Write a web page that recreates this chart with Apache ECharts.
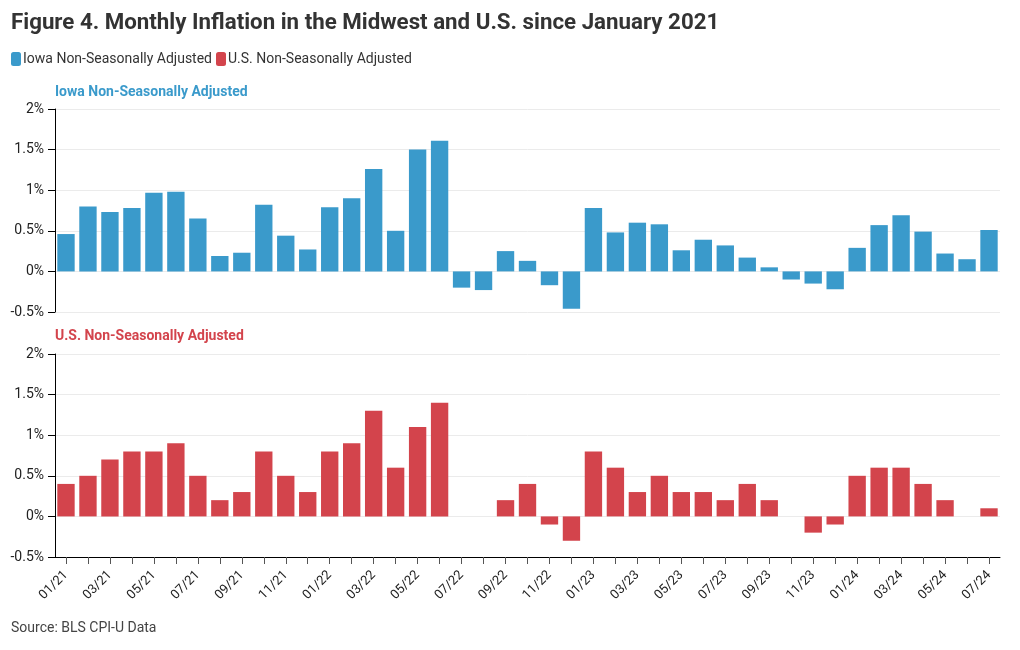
<!DOCTYPE html>
<html>
<head>
<meta charset="utf-8">
<script src="https://cdn.jsdelivr.net/npm/echarts@6/dist/echarts.min.js"></script>
<style>
html,body{margin:0;padding:0;background:#fff;}
#chart{width:1020px;height:650px;}
</style>
</head>
<body>
<div id="chart"></div>
<script>
const months = ['01/21','02/21','03/21','04/21','05/21','06/21','07/21','08/21','09/21','10/21','11/21','12/21',
  '01/22','02/22','03/22','04/22','05/22','06/22','07/22','08/22','09/22','10/22','11/22','12/22',
  '01/23','02/23','03/23','04/23','05/23','06/23','07/23','08/23','09/23','10/23','11/23','12/23',
  '01/24','02/24','03/24','04/24','05/24','06/24','07/24'];
const iowaNSA = [0.46,0.80,0.73,0.78,0.97,0.98,0.65,0.19,0.23,0.82,0.44,0.27,
  0.79,0.90,1.26,0.50,1.50,1.61,-0.20,-0.23,0.25,0.13,-0.17,-0.46,
  0.78,0.48,0.60,0.58,0.26,0.39,0.32,0.17,0.05,-0.10,-0.15,-0.22,
  0.29,0.57,0.69,0.49,0.22,0.15,0.51];
const usNSA = [0.4,0.5,0.7,0.8,0.8,0.9,0.5,0.2,0.3,0.8,0.5,0.3,
  0.8,0.9,1.3,0.6,1.1,1.4,0.0,0.0,0.2,0.4,-0.1,-0.3,
  0.8,0.6,0.3,0.5,0.3,0.3,0.2,0.4,0.2,0.0,-0.2,-0.1,
  0.5,0.6,0.6,0.4,0.2,0.0,0.1];
const yTicks = {min:-0.5, max:2, interval:0.5};

const BLUE = '#3a9acb', RED = '#d3444c';
const FONT = 'Roboto';
const chart = echarts.init(document.getElementById('chart'));

function yAxis(idx){
  return {
    gridIndex: idx, type:'value', min:yTicks.min, max:yTicks.max, interval:yTicks.interval,
    axisLine:{show:true, lineStyle:{color:'#000', width:1}},
    axisTick:{show:true, length:7, lineStyle:{color:'#000'}},
    axisLabel:{formatter: v => v + '%', color:'#222', fontSize:14, fontFamily:FONT, margin:11},
    splitLine:{show:true, lineStyle:{color:'#ebebeb', width:1}}
  };
}

chart.setOption({
  animation:false,
  textStyle:{fontFamily:FONT},
  title:[
    {text:'Figure 4. Monthly Inflation in the Midwest and U.S. since January 2021', left:11, top:12, padding:0,
     textStyle:{fontSize:22.3, fontWeight:'bold', color:'#333', fontFamily:FONT}},
    {text:'Iowa Non-Seasonally Adjusted', left:55, top:85, padding:0,
     textStyle:{fontSize:14, fontWeight:'bold', color:BLUE, fontFamily:FONT}},
    {text:'U.S. Non-Seasonally Adjusted', left:55, top:329, padding:0,
     textStyle:{fontSize:14, fontWeight:'bold', color:RED, fontFamily:FONT}},
    {text:'Source: BLS CPI-U Data', left:11, top:621, padding:0,
     textStyle:{fontSize:14, fontWeight:'normal', color:'#444', fontFamily:FONT}}
  ],
  legend:{
    left:11, top:52, padding:0, icon:'roundRect', itemWidth:10, itemHeight:14, itemGap:4,
    textStyle:{fontSize:14, color:'#333', fontFamily:FONT, padding:[0,0,0,-3]},
    data:['Iowa Non-Seasonally Adjusted','U.S. Non-Seasonally Adjusted']
  },
  grid:[
    {left:55, right:20, top:109, height:203},
    {left:55, right:20, top:354, height:203}
  ],
  xAxis:[
    {gridIndex:0, type:'category', data:months, show:false},
    {gridIndex:1, type:'category', data:months,
     axisLine:{onZero:false, lineStyle:{color:'#000', width:1}},
     axisTick:{show:true, alignWithLabel:true, interval:0, length:7, lineStyle:{color:'#555'}},
     axisLabel:{interval:1, rotate:45, color:'#222', fontSize:13, fontFamily:FONT, margin:16}}
  ],
  yAxis:[yAxis(0), yAxis(1)],
  series:[
    {name:'Iowa Non-Seasonally Adjusted', type:'bar', xAxisIndex:0, yAxisIndex:0, data:iowaNSA,
     barCategoryGap:'21%', itemStyle:{color:BLUE}},
    {name:'U.S. Non-Seasonally Adjusted', type:'bar', xAxisIndex:1, yAxisIndex:1, data:usNSA,
     barCategoryGap:'21%', itemStyle:{color:RED}}
  ]
});
</script>
</body>
</html>
